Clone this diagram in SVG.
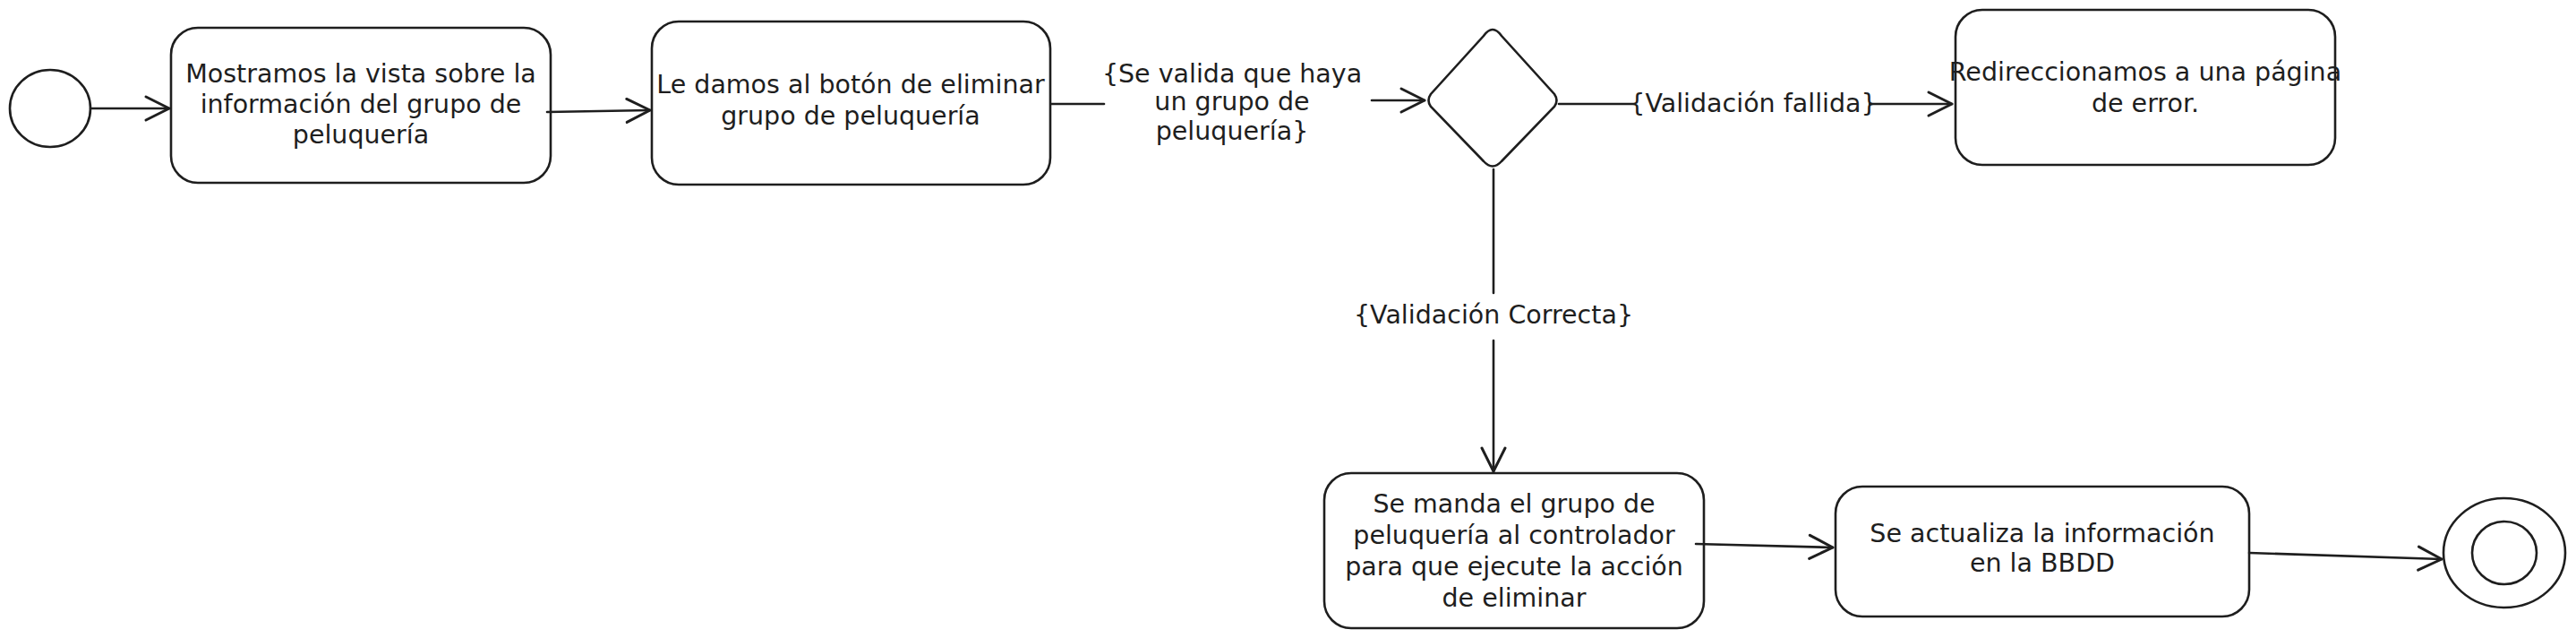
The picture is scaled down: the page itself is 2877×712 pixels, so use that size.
<svg xmlns="http://www.w3.org/2000/svg" width="2877" height="712" viewBox="0 0 2877 712">
<defs>
<marker id="arr" markerUnits="userSpaceOnUse" markerWidth="40" markerHeight="40" viewBox="-30 -20 40 40" refX="0" refY="0" orient="auto">
<path d="M-26,-13 L0,0 L-26,13" fill="none" stroke="#1e1e1e" stroke-width="3" stroke-linecap="round" stroke-linejoin="round"/>
</marker>
<style>
.box{fill:#ffffff;stroke:#1e1e1e;stroke-width:2.6}
.ln{fill:none;stroke:#1e1e1e;stroke-width:2.6;stroke-linecap:round}
.t{font-family:"DejaVu Sans","Liberation Sans",sans-serif;font-size:28.5px;fill:#1e1e1e;text-anchor:middle}
</style>
</defs>
<rect width="2877" height="712" fill="#ffffff"/>
<g id="start">
<ellipse cx="56" cy="121" rx="45" ry="43" class="box"/>
</g>
<g id="n1">
<rect x="191" y="31" width="424" height="173" rx="30" class="box"/>
<text class="t" x="403" y="92">Mostramos la vista sobre la</text>
<text class="t" x="403" y="126">información del grupo de</text>
<text class="t" x="403" y="160">peluquería</text>
</g>
<g id="n2">
<rect x="728" y="24" width="445" height="182" rx="30" class="box"/>
<text class="t" x="950" y="104">Le damos al botón de eliminar</text>
<text class="t" x="950" y="139">grupo de peluquería</text>
</g>
<g id="decision">
<path d="M1667,33 Q1672,33 1677,40 L1736,105 Q1741,112 1736,119 L1677,180 Q1667,191 1657,180 L1598,119 Q1593,112 1598,105 L1657,40 Q1662,33 1667,33 Z" class="box"/>
</g>
<g id="n3">
<rect x="2184" y="11" width="424" height="173" rx="30" class="box"/>
<text class="t" x="2396" y="90">Redireccionamos a una página</text>
<text class="t" x="2396" y="125">de error.</text>
</g>
<g id="n4">
<rect x="1479" y="528" width="424" height="173" rx="30" class="box"/>
<text class="t" x="1691" y="572">Se manda el grupo de</text>
<text class="t" x="1691" y="607">peluquería al controlador</text>
<text class="t" x="1691" y="642">para que ejecute la acción</text>
<text class="t" x="1691" y="677">de eliminar</text>
</g>
<g id="n5">
<rect x="2050" y="543" width="462" height="145" rx="30" class="box"/>
<text class="t" x="2281" y="605">Se actualiza la información</text>
<text class="t" x="2281" y="638">en la BBDD</text>
</g>
<g id="end">
<ellipse cx="2797" cy="617" rx="68" ry="61" class="box"/>
<ellipse cx="2797" cy="617" rx="36" ry="35" class="box"/>
</g>
<g id="connectors">
<line x1="101" y1="121" x2="189" y2="121" class="ln" marker-end="url(#arr)"/>
<line x1="611" y1="125" x2="726" y2="123" class="ln" stroke-width="3.2" marker-end="url(#arr)"/>
<line x1="1174" y1="116" x2="1233" y2="116" class="ln"/>
<line x1="1532" y1="112" x2="1591" y2="112" class="ln" marker-end="url(#arr)"/>
<text class="t" x="1376" y="92">{Se valida que haya</text>
<text class="t" x="1376" y="123">un grupo de</text>
<text class="t" x="1376" y="156">peluquería}</text>
<line x1="1741" y1="116" x2="1826" y2="116" class="ln"/>
<line x1="2088" y1="116" x2="2180" y2="116" class="ln" marker-end="url(#arr)"/>
<text class="t" x="1958" y="125">{Validación fallida}</text>
<line x1="1668" y1="189" x2="1668" y2="327" class="ln"/>
<line x1="1668" y1="380" x2="1668" y2="526" class="ln" marker-end="url(#arr)"/>
<text class="t" x="1668" y="361">{Validación Correcta}</text>
<line x1="1894" y1="607" x2="2047" y2="611" class="ln" stroke-width="3.2" marker-end="url(#arr)"/>
<line x1="2512" y1="617" x2="2727" y2="624" class="ln" stroke-width="3" marker-end="url(#arr)"/>
</g>
</svg>
